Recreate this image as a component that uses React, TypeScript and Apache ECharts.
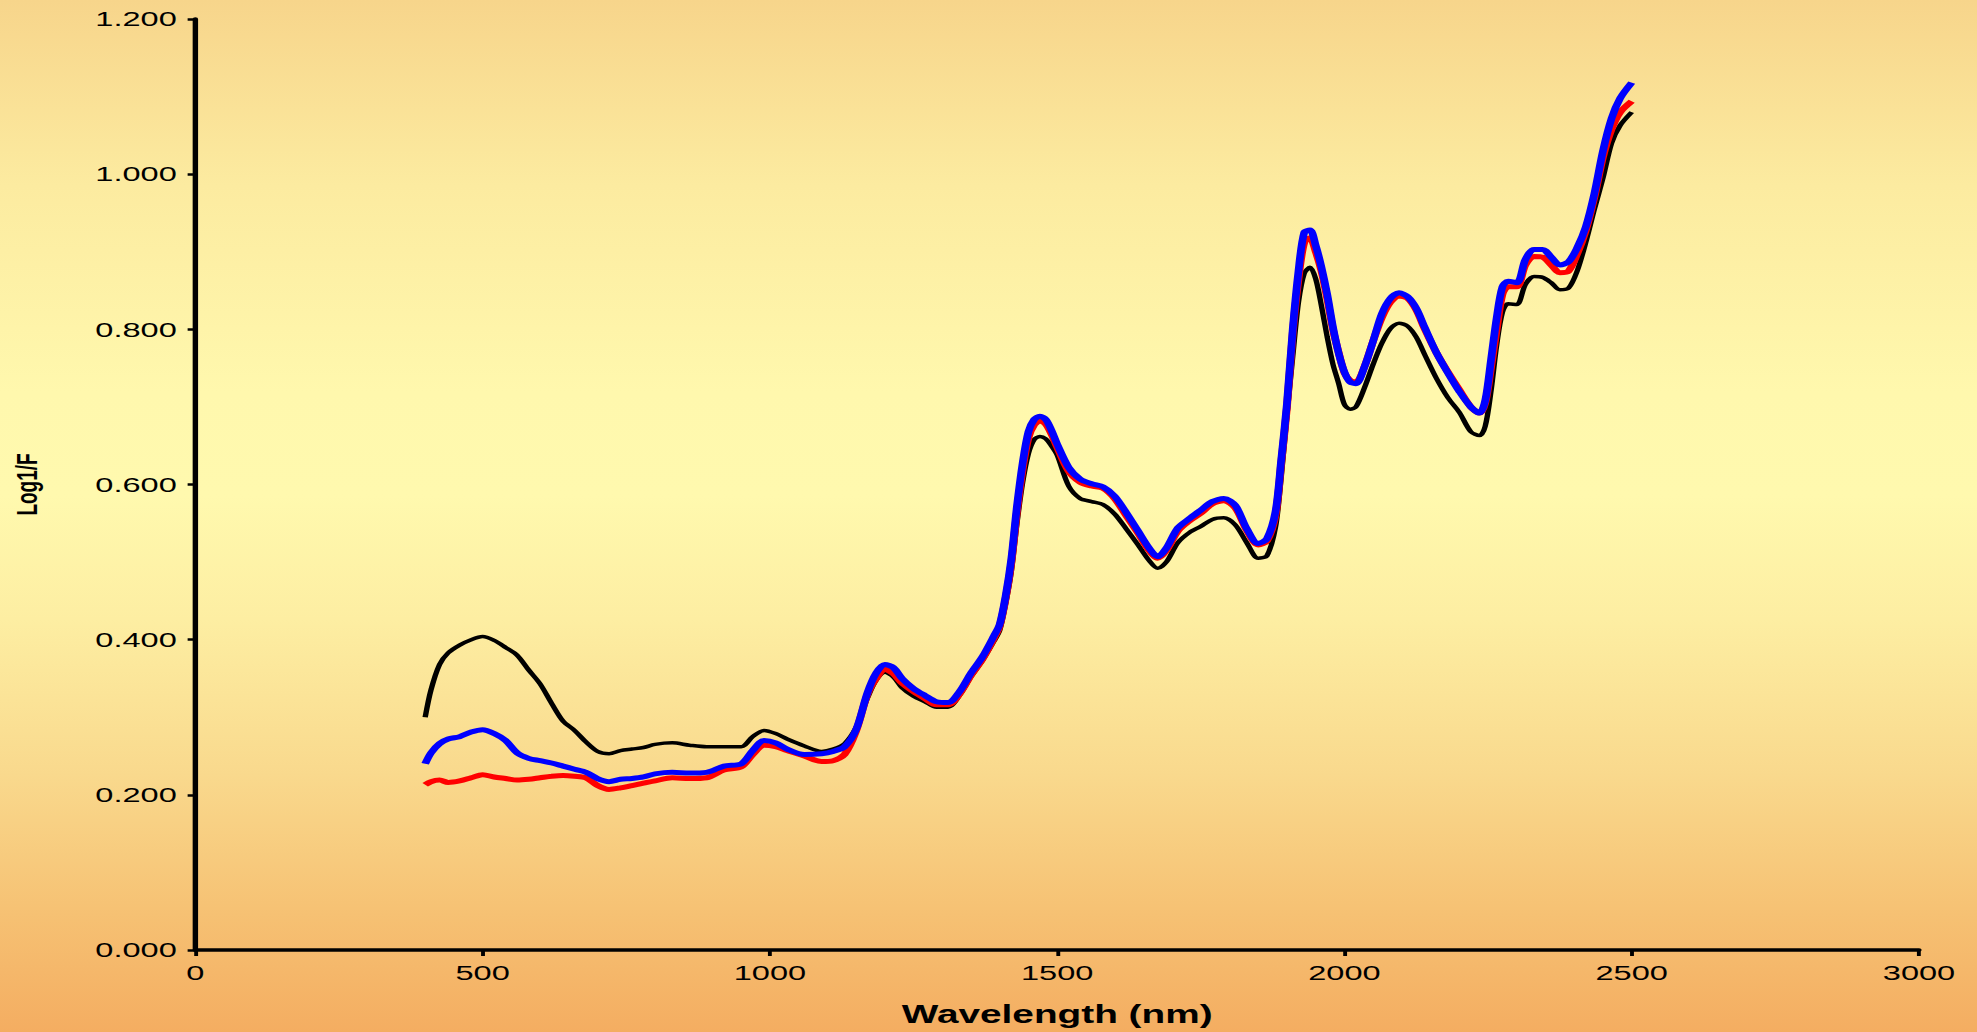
import React, { useEffect, useRef } from "react";
import * as echarts from "echarts";

// Wavelength grid (nm)
const wavelength = [
  400, 410, 425, 440, 460, 480, 500, 520, 540, 560,
  580, 600, 620, 640, 660, 680, 700, 720, 740, 760,
  780, 800, 830, 860, 890, 920, 950, 970, 990, 1010,
  1030, 1060, 1090, 1110, 1130, 1150, 1170, 1185, 1200, 1215,
  1230, 1250, 1270, 1290, 1310, 1330, 1350, 1370, 1390, 1400,
  1410, 1420, 1430, 1440, 1450, 1460, 1470, 1480, 1490, 1500,
  1520, 1540, 1560, 1580, 1600, 1620, 1640, 1660, 1675, 1690,
  1710, 1730, 1750, 1770, 1790, 1810, 1830, 1850, 1865, 1880,
  1890, 1900, 1910, 1920, 1930, 1940, 1950, 1960, 1970, 1980,
  1990, 2000, 2010, 2020, 2035, 2050, 2065, 2080, 2095, 2110,
  2125, 2140, 2160, 2180, 2200, 2220, 2235, 2245, 2255, 2265,
  2275, 2285, 2300, 2315, 2330, 2345, 2360, 2375, 2390, 2405,
  2420, 2435, 2450, 2465, 2480, 2500,
];

const blackSeries = [
  0.300, 0.335, 0.368, 0.383, 0.393, 0.400, 0.404, 0.399, 0.390, 0.380,
  0.361, 0.343, 0.318, 0.295, 0.283, 0.268, 0.256, 0.253, 0.257, 0.259,
  0.261, 0.265, 0.267, 0.264, 0.262, 0.262, 0.262, 0.275, 0.283, 0.279,
  0.272, 0.263, 0.256, 0.259, 0.266, 0.287, 0.325, 0.348, 0.358, 0.352,
  0.338, 0.327, 0.320, 0.313, 0.313, 0.328, 0.352, 0.373, 0.398, 0.412,
  0.445, 0.487, 0.550, 0.603, 0.640, 0.658, 0.662, 0.659, 0.650, 0.638,
  0.598, 0.582, 0.578, 0.574, 0.562, 0.543, 0.523, 0.502, 0.492, 0.500,
  0.525, 0.538, 0.546, 0.555, 0.557, 0.548, 0.525, 0.505, 0.508, 0.545,
  0.610, 0.690, 0.765, 0.835, 0.872, 0.880, 0.865, 0.830, 0.790, 0.755,
  0.730, 0.703, 0.697, 0.700, 0.725, 0.755, 0.782, 0.801, 0.808, 0.804,
  0.790, 0.767, 0.737, 0.712, 0.693, 0.668, 0.663, 0.675, 0.720, 0.780,
  0.822, 0.833, 0.832, 0.858, 0.868, 0.867, 0.860, 0.851, 0.853, 0.875,
  0.912, 0.955, 0.995, 1.040, 1.063, 1.080,
];

const redSeries = [
  0.213, 0.217, 0.219, 0.216, 0.218, 0.222, 0.226, 0.223, 0.221, 0.219,
  0.220, 0.222, 0.224, 0.225, 0.224, 0.222, 0.212, 0.207, 0.209, 0.212,
  0.215, 0.218, 0.222, 0.221, 0.222, 0.232, 0.236, 0.252, 0.264, 0.262,
  0.257, 0.250, 0.243, 0.244, 0.252, 0.282, 0.330, 0.350, 0.362, 0.356,
  0.344, 0.333, 0.324, 0.316, 0.316, 0.330, 0.354, 0.375, 0.402, 0.418,
  0.452, 0.498, 0.565, 0.620, 0.660, 0.677, 0.682, 0.678, 0.665, 0.648,
  0.617, 0.603, 0.598, 0.595, 0.582, 0.560, 0.538, 0.515, 0.505, 0.515,
  0.540, 0.553, 0.563, 0.575, 0.579, 0.570, 0.541, 0.522, 0.527, 0.560,
  0.628, 0.700, 0.795, 0.865, 0.912, 0.918, 0.900, 0.875, 0.840, 0.800,
  0.770, 0.744, 0.734, 0.732, 0.752, 0.785, 0.815, 0.835, 0.843, 0.840,
  0.825, 0.800, 0.770, 0.745, 0.722, 0.700, 0.692, 0.705, 0.750, 0.800,
  0.845, 0.855, 0.855, 0.883, 0.894, 0.893, 0.883, 0.873, 0.875, 0.897,
  0.927, 0.970, 1.022, 1.058, 1.080, 1.094,
];

const blueSeries = [
  0.240, 0.254, 0.266, 0.272, 0.275, 0.281, 0.284, 0.279, 0.270, 0.254,
  0.247, 0.244, 0.241, 0.237, 0.233, 0.229, 0.221, 0.217, 0.220, 0.221,
  0.223, 0.227, 0.229, 0.228, 0.229, 0.237, 0.240, 0.257, 0.270, 0.267,
  0.259, 0.252, 0.253, 0.256, 0.262, 0.284, 0.332, 0.357, 0.368, 0.364,
  0.350, 0.337, 0.328, 0.320, 0.319, 0.333, 0.357, 0.378, 0.405, 0.420,
  0.455, 0.503, 0.572, 0.628, 0.668, 0.684, 0.688, 0.684, 0.670, 0.652,
  0.622, 0.607, 0.601, 0.597, 0.585, 0.564, 0.541, 0.518, 0.507, 0.518,
  0.544, 0.556, 0.567, 0.578, 0.582, 0.573, 0.543, 0.524, 0.530, 0.565,
  0.632, 0.705, 0.800, 0.875, 0.925, 0.928, 0.908, 0.880, 0.845, 0.803,
  0.769, 0.745, 0.732, 0.730, 0.752, 0.785, 0.820, 0.840, 0.847, 0.842,
  0.827, 0.802, 0.770, 0.744, 0.720, 0.700, 0.692, 0.708, 0.760, 0.815,
  0.855, 0.862, 0.860, 0.890, 0.903, 0.903, 0.893, 0.883, 0.887, 0.905,
  0.932, 0.975, 1.030, 1.072, 1.098, 1.118,
];

const xAxisName = "Wavelength (nm)";
const yAxisName = "Log1/F";

const PAGE_W = 1977;
const PAGE_H = 1032;
const STRETCH = 1.55; // the original chart is stretched horizontally
const CHART_W = Math.round(PAGE_W / STRETCH);

const FONT = "'Liberation Sans', Arial, sans-serif";

function pairs(values: number[]) {
  const out: [number, number][] = [];
  wavelength.forEach((w, i) => {
    if (values[i] !== undefined) out.push([w, values[i]]);
  });
  return out;
}

export default function App() {
  const ref = useRef<HTMLDivElement>(null);

  useEffect(() => {
    document.body.style.margin = "0";
    if (!ref.current) return;
    const chart = echarts.init(ref.current, undefined, { renderer: "svg" });
    chart.setOption({
      animation: false,
      backgroundColor: "transparent",
      grid: {
        left: 193 / STRETCH,
        right: 58 / STRETCH,
        top: 19,
        bottom: 77,
        containLabel: false,
      },
      xAxis: {
        type: "value",
        min: 0,
        max: 3000,
        interval: 500,
        name: xAxisName,
        nameLocation: "middle",
        nameGap: 52,
        nameTextStyle: {
          fontFamily: FONT,
          fontWeight: "bold",
          fontSize: 25,
          color: "#000",
        },
        axisLine: { show: true, onZero: false, lineStyle: { color: "#000", width: 3.5 } },
        axisTick: { show: true, length: 6, lineStyle: { color: "#000", width: 2.5 } },
        axisLabel: {
          fontFamily: FONT,
          fontSize: 21,
          color: "#000",
          margin: 12,
          formatter: (v: number) => String(v),
        },
        splitLine: { show: false },
      },
      yAxis: {
        type: "value",
        min: 0,
        max: 1.2,
        interval: 0.2,
        name: yAxisName,
        nameLocation: "middle",
        nameGap: 99,
        nameRotate: 90,
        nameTextStyle: {
          fontFamily: FONT,
          fontWeight: "bold",
          fontSize: 19,
          color: "#000",
        },
        axisLine: { show: true, onZero: false, lineStyle: { color: "#000", width: 3.5 } },
        axisTick: { show: true, length: 5, lineStyle: { color: "#000", width: 2.5 } },
        axisLabel: {
          fontFamily: FONT,
          fontSize: 21,
          color: "#000",
          margin: 12,
          formatter: (v: number) => v.toFixed(3),
        },
        splitLine: { show: false },
      },
      series: [
        {
          name: "black",
          type: "line",
          data: pairs(blackSeries),
          showSymbol: false,
          smooth: 0.3,
          lineStyle: { color: "#000000", width: 3.5 },
          z: 2,
        },
        {
          name: "red",
          type: "line",
          data: pairs(redSeries),
          showSymbol: false,
          smooth: 0.3,
          lineStyle: { color: "#FF0000", width: 5 },
          z: 3,
        },
        {
          name: "blue",
          type: "line",
          data: pairs(blueSeries),
          showSymbol: false,
          smooth: 0.3,
          lineStyle: { color: "#0000FF", width: 5 },
          z: 4,
        },
      ],
    });
    return () => {
      chart.dispose();
    };
  }, []);

  return (
    <div
      style={{
        position: "relative",
        width: PAGE_W,
        height: PAGE_H,
        overflow: "hidden",
        background:
          "linear-gradient(to bottom, #F7D58B 0%, #FCEBA0 18%, #FFF8AD 38%, #FFF9AE 48%, #FDEEA2 60%, #F9D98D 75%, #F6C274 88%, #F4AD61 100%)",
      }}
    >
      <div
        ref={ref}
        style={{
          position: "absolute",
          left: 0,
          top: 0,
          width: CHART_W,
          height: PAGE_H,
          transform: `scaleX(${PAGE_W / CHART_W})`,
          transformOrigin: "0 0",
        }}
      />
    </div>
  );
}
